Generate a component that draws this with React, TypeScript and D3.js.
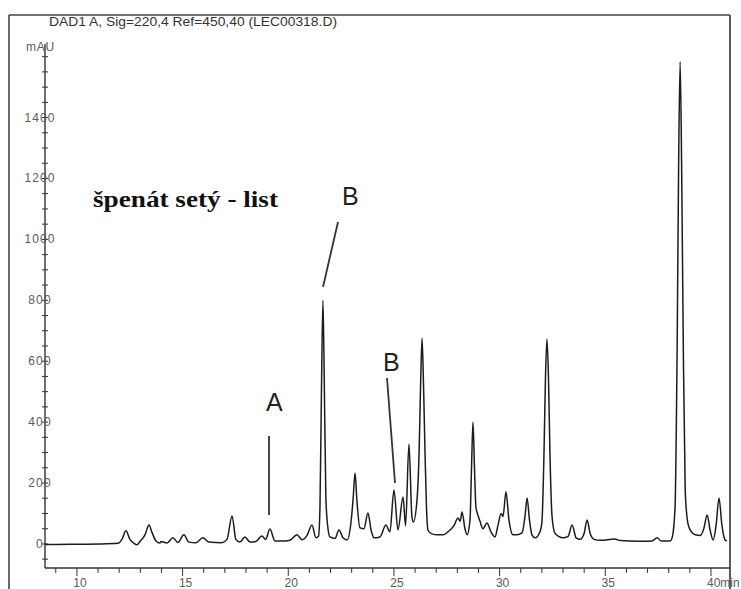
import React from "react";
import * as d3 from "d3";

// Retention times (min) and detector signal (mAU)
const times = [
  8.49, 9.67, 11.09, 11.94,
  12.13, 12.32, 12.51, 12.70, 12.84,
  12.98, 13.22, 13.41, 13.55, 13.74, 13.93,
  13.98, 14.26, 14.54, 14.78,
  15.06, 15.30, 15.63, 15.96, 16.25,
  16.86, 17.10, 17.34, 17.52, 17.71,
  17.95, 18.19, 18.47, 18.75, 18.93, 19.13, 19.37,
  19.84, 20.08, 20.41, 20.65, 20.89, 21.12, 21.31, 21.43,
  21.50, 21.57, 21.64, 21.71, 21.78, 21.88, 21.97,
  22.21, 22.40, 22.59, 22.78,
  22.97, 23.07, 23.16, 23.25, 23.39,
  23.58, 23.77, 23.92, 24.06,
  24.34, 24.62, 24.81,
  25.00, 25.19,
  25.43, 25.55,
  25.71, 25.85, 25.92,
  26.09, 26.19, 26.26, 26.33, 26.40, 26.47, 26.54, 26.61,
  26.80, 27.04, 27.32, 27.56,
  27.84, 28.03, 28.13, 28.22, 28.36, 28.46,
  28.60, 28.67, 28.74, 28.81, 28.88, 28.95, 29.07, 29.21,
  29.40, 29.59, 29.78,
  29.92, 30.07, 30.16, 30.30, 30.44, 30.63, 30.82,
  31.06, 31.20, 31.30, 31.41, 31.53, 31.68,
  31.91, 32.00, 32.10, 32.17, 32.24, 32.31, 32.38, 32.48, 32.62,
  33.00, 33.24, 33.43, 33.62, 33.81,
  34.00, 34.14, 34.28, 34.47,
  34.75, 35.46, 35.70, 36.64, 37.21, 37.45, 37.64, 38.07,
  38.16, 38.30, 38.40, 38.47, 38.54, 38.61, 38.69, 38.78, 38.88, 39.02, 39.26, 39.50,
  39.66, 39.82, 39.96, 40.10,
  40.24, 40.38, 40.52, 40.67, 40.76,
];

const signal = [
  -2, -1, 0, 2,
  15, 43, 15, 2, -3,
  8, 30, 62, 38, 10, 3,
  8, 3, 20, 5,
  30, 6, 4, 20, 6,
  4, 15, 92, 15, 6,
  23, 6, 8, 26, 15, 49, 10,
  10, 12, 30, 14, 28, 62, 20, 25,
  120, 500, 800, 500, 150, 50, 23,
  18, 46, 20, 13,
  72, 150, 233, 140, 53,
  50, 102, 45, 20,
  23, 62, 40,
  177, 46,
  154, 60,
  328, 90, 72,
  144, 300, 520, 676, 520, 300, 120, 45,
  33, 30, 30, 40,
  60, 85, 75, 105, 50, 30,
  80, 250, 400, 250, 120, 100, 75, 50,
  69, 40, 23,
  60, 100, 90, 171, 80, 30, 30,
  36, 90, 151, 80, 30, 20,
  40, 70, 300, 550, 673, 550, 300, 90, 35,
  20, 25, 62, 20, 15,
  35, 79, 35, 15,
  12, 16, 11, 9, 10, 20, 10, 10,
  20, 120, 650, 1250, 1583, 1250, 650, 180, 80, 45, 30, 28,
  50, 95, 45, 13,
  60, 151, 60, 13, 10,
];

const yLabelValues = [0, 200, 400, 600, 800, 1000, 1200, 1400];
const yMinorValues = d3.range(-50, 1601, 50);
const xLabelValues = [10, 15, 20, 25, 30, 35];
const xMinorValues = d3.range(9, 41, 1);

const titleText = "DAD1 A, Sig=220,4 Ref=450,40 (LEC00318.D)";
const yUnit = "mAU";
const sampleLabel = "špenát setý - list";

export default function App() {
  const W = 741;
  const H = 589;
  const x = d3.scaleLinear().domain([8.49, 40.9]).range([45, 730]);
  const y = d3.scaleLinear().domain([-79, 1704]).range([568, 25]);

  const pts: [number, number][] = times.map((t, i) => [t, signal[i]]);
  const line = d3
    .line<[number, number]>()
    .x((d) => x(d[0]))
    .y((d) => y(d[1]))
    .curve(d3.curveMonotoneX);

  const axisColor = "#333";
  const labelColor = "#5a5a5a";
  const font = "Liberation Sans, Arial, sans-serif";

  return (
    <svg
      width={W}
      height={H}
      style={{ position: "absolute", left: 0, top: 0, background: "#fff" }}
    >
      <rect x={0} y={0} width={W} height={H} fill="#fff" />
      {/* outer frame */}
      <line x1={9} y1={15} x2={730} y2={15} stroke="#444" strokeWidth={1.6} />
      <line x1={9} y1={15} x2={9} y2={H} stroke="#444" strokeWidth={1.6} />
      <line x1={730} y1={15} x2={730} y2={H} stroke="#333" strokeWidth={1.6} />

      <text
        x={49}
        y={26}
        fontFamily={font}
        fontSize={12}
        fill="#333"
        textLength={288}
        lengthAdjust="spacingAndGlyphs"
      >
        {titleText}
      </text>

      {/* y axis */}
      <line x1={45} y1={44} x2={45} y2={568} stroke={axisColor} strokeWidth={1.4} />
      {yMinorValues.map((v) => (
        <line key={"ym" + v} x1={42} x2={48} y1={y(v)} y2={y(v)} stroke={axisColor} strokeWidth={1} />
      ))}
      {yLabelValues.map((v) => (
        <text
          key={"yl" + v}
          x={40}
          y={y(v) + 4}
          textAnchor="middle"
          fontFamily={font}
          fontSize={12}
          letterSpacing={1.1}
          fill={labelColor}
        >
          {v}
        </text>
      ))}
      <text x={26} y={51} fontFamily={font} fontSize={12} letterSpacing={0.8} fill={labelColor}>
        {yUnit}
      </text>

      {/* x axis */}
      <line x1={45} y1={568} x2={730} y2={568} stroke={axisColor} strokeWidth={1.4} />
      {xMinorValues.map((t) => (
        <line
          key={"xm" + t}
          x1={x(t)}
          x2={x(t)}
          y1={568}
          y2={t % 5 === 0 ? 576 : 573}
          stroke={axisColor}
          strokeWidth={1}
        />
      ))}
      {xLabelValues.map((t) => (
        <text
          key={"xl" + t}
          x={x(t) + 3}
          y={587}
          textAnchor="middle"
          fontFamily={font}
          fontSize={12}
          fill={labelColor}
        >
          {t}
        </text>
      ))}
      <text x={x(40) - 4} y={587} fontFamily={font} fontSize={12} fill={labelColor}>
        40min
      </text>

      {/* chromatogram trace */}
      <path d={line(pts) || ""} fill="none" stroke="#1c1c1c" strokeWidth={1.5} strokeLinejoin="round" />

      {/* annotations */}
      <text
        x={93}
        y={207}
        fontFamily="Liberation Serif, Times New Roman, serif"
        fontWeight="bold"
        fontSize={24}
        fill="#111"
        textLength={185}
        lengthAdjust="spacingAndGlyphs"
      >
        {sampleLabel}
      </text>
      <text x={342} y={205} fontFamily={font} fontSize={25} fill="#222">
        B
      </text>
      <line x1={338} y1={222} x2={323} y2={287} stroke="#333" strokeWidth={1.8} />
      <text x={383} y={371} fontFamily={font} fontSize={25} fill="#222">
        B
      </text>
      <line x1={387} y1={378} x2={395} y2={483} stroke="#333" strokeWidth={1.8} />
      <text x={266} y={411} fontFamily={font} fontSize={25} fill="#222">
        A
      </text>
      <line x1={269} y1={436} x2={269} y2={515} stroke="#333" strokeWidth={1.8} />
    </svg>
  );
}
